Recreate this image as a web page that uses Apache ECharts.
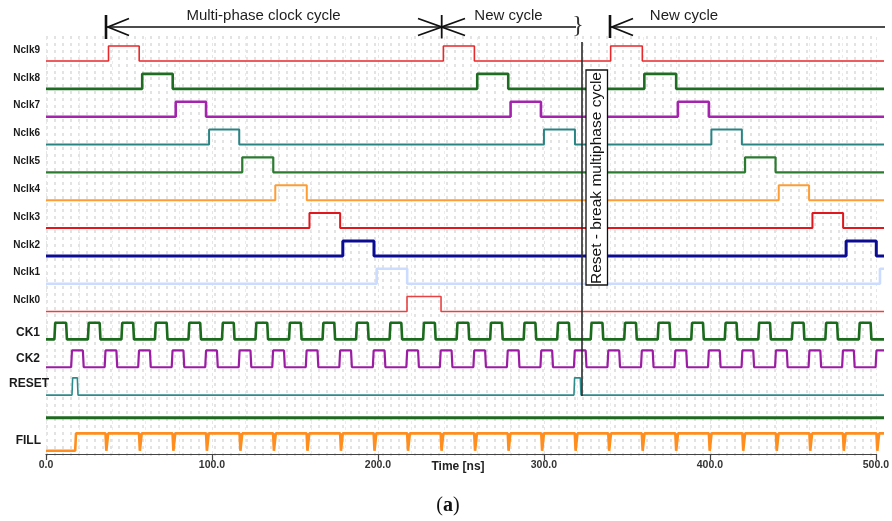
<!DOCTYPE html>
<html>
<head>
<meta charset="utf-8">
<script src="https://cdn.jsdelivr.net/npm/echarts@6/dist/echarts.min.js"></script>
<style>
  html, body { margin: 0; padding: 0; background: #fff; }
  #chart { width: 892px; height: 521px; }
</style>
</head>
<body>
<div id="chart"></div>
<script>
var T_END = 500;

// row names, top to bottom
var rowNames = ['Nclk9', 'Nclk8', 'Nclk7', 'Nclk6', 'Nclk5', 'Nclk4', 'Nclk3', 'Nclk2', 'Nclk1', 'Nclk0',
                'CK1', 'CK2', 'RESET', '', 'FILL'];

// phase pulses [rise, fall] in ns
var nclk9 = [[37.3, 55.6], [237.1, 255.6], [336.9, 355.8]];
var nclk8 = [[57.4, 75.6], [257.3, 275.8], [357.0, 376.0]];
var nclk7 = [[77.4, 95.5], [277.2, 295.3], [377.0, 395.5]];
var nclk6 = [[97.3, 115.3], [297.1, 315.6], [397.0, 415.2]];
var nclk5 = [[117.1, 135.6], [417.1, 435.3]];
var nclk4 = [[136.8, 155.6], [437.2, 455.3]];
var nclk3 = [[157.2, 175.5], [457.3, 475.6]];
var nclk2 = [[177.1, 195.7], [477.4, 495.4]];
var nclk1 = [[197.3, 215.5], [497.6, 500]];
var nclk0 = [[215.4, 235.7]];

// clocks
var ck1Rise = [5, 25, 45, 65, 85, 105, 125, 145, 165, 185, 205, 225, 245, 265, 285, 305, 325, 345, 365, 385, 405, 425, 445, 465, 485];
var ck1Fall = [12, 32, 52, 72, 92, 112, 132, 152, 172, 192, 212, 232, 252, 272, 292, 312, 332, 352, 372, 392, 412, 432, 452, 472, 492];
var ck2Rise = [15, 35, 55, 75, 95, 115, 135, 155, 175, 195, 215, 235, 255, 275, 295, 315, 335, 355, 375, 395, 415, 435, 455, 475, 495];
var ck2Fall = [22, 42, 62, 82, 102, 122, 142, 162, 182, 202, 222, 242, 262, 282, 302, 322, 342, 362, 382, 402, 422, 442, 462, 482, 502];

var resetPulses = [[15.5, 18.7], [315.0, 318.8]];
var busLevel = 0.3;
var fillRise = 17.4;
var fillDips = [36.3, 56.3, 76.3, 96.3, 116.3, 136.3, 156.3, 176.3, 196.3, 216.3, 236.3, 256.3,
                276.3, 296.3, 316.3, 336.3, 356.3, 376.3, 396.3, 416.3, 436.3, 456.3, 476.3, 496.3];

var xTicks = [0, 100, 200, 300, 400, 500];

// ---- layout ----
var LEFT = 46, RIGHT = 8;
var ROW0 = 61, PITCH = 27.84;
var amps =    [15, 15, 15, 15, 15, 15, 15, 15, 15, 15, 16.6, 16.8, 17.2, 17, 17.4];
var labOff =  [11, 11, 11, 11, 11, 11, 11, 11, 11, 11, 7, 9, 11.5, 0, 10];
var labRight =[40, 40, 40, 40, 40, 40, 40, 40, 40, 40, 40, 40, 49, 40, 41];
var styles = [
  {color: '#e8292b', width: 1.6},
  {color: '#1f6d22', width: 2.6},
  {color: '#a424ae', width: 2.6},
  {color: '#2a8484', width: 2},
  {color: '#2b7b30', width: 2.2},
  {color: '#ff9d35', width: 2},
  {color: '#e0181d', width: 2},
  {color: '#0c0c92', width: 3},
  {color: '#cbdcff', width: 2.6},
  {color: '#ea4242', width: 1.6},
  {color: '#1b6b1d', width: 2.6},
  {color: '#9c1ca4', width: 2.2},
  {color: '#2e8b8b', width: 1.6},
  {color: '#1d6a1f', width: 3},
  {color: '#ff8e1e', width: 2.6}
];

function pulseLine(pairs, edge) {
  edge = edge || 0;
  var pts = [[0, 0]];
  pairs.forEach(function (p) {
    pts.push([p[0], 0], [p[0] + edge, 1]);
    if (p[1] >= T_END) { pts.push([T_END, 1]); return; }
    pts.push([p[1], 1], [p[1] + edge, 0]);
  });
  if (pts[pts.length - 1][0] < T_END) pts.push([T_END, 0]);
  return pts;
}
function zip(a, b) { return a.map(function (v, i) { return [v, b[i]]; }); }

var fillLine = [[0, 0], [fillRise, 0], [fillRise + 0.5, 1]];
fillDips.forEach(function (d) {
  fillLine.push([d - 0.8, 1], [d - 0.3, 0], [d + 0.3, 0], [d + 0.8, 1]);
});
fillLine.push([T_END, 1]);

var rowData = [
  pulseLine(nclk9), pulseLine(nclk8), pulseLine(nclk7), pulseLine(nclk6), pulseLine(nclk5),
  pulseLine(nclk4), pulseLine(nclk3), pulseLine(nclk2), pulseLine(nclk1), pulseLine(nclk0),
  pulseLine(zip(ck1Rise, ck1Fall), 0.5),
  pulseLine(zip(ck2Rise, ck2Fall), 0.5),
  pulseLine(resetPulses, 0.4),
  [[0, busLevel], [T_END, busLevel]],
  fillLine
];

var grids = [{left: LEFT, right: RIGHT, top: 37, bottom: 67}];
var xAxes = [
  {
    gridIndex: 0, type: 'value', min: 0, max: T_END, interval: 100,
    axisLine: {show: true, lineStyle: {color: '#444', width: 1.2}},
    axisTick: {show: true, length: 6, lineStyle: {color: '#444', width: 1.2}},
    axisLabel: {color: '#333', fontSize: 10.5, fontWeight: 'bold', fontFamily: 'Liberation Sans', margin: 6,
                formatter: function (v) { return xTicks.indexOf(v) >= 0 ? v.toFixed(1) : ''; }},
    splitLine: {show: true, lineStyle: {color: '#e6e6e6', type: [3, 3], width: 1}},
    minorTick: {show: false, splitNumber: 5},
    minorSplitLine: {show: true, lineStyle: {color: '#ececec', type: [3, 3], width: 1}}
  }
];
var yAxes = [
  {
    gridIndex: 0, type: 'value', min: 0, max: 60, interval: 1,
    axisLine: {show: false}, axisTick: {show: false}, axisLabel: {show: false},
    splitLine: {show: true, lineStyle: {color: '#e3e3e3', type: [2, 6], width: 3}}
  }
];
var series = [];
var graphics = [];

rowNames.forEach(function (name, i) {
  var low = ROW0 + PITCH * i;
  grids.push({left: LEFT, right: RIGHT, top: low - amps[i], height: amps[i]});
  xAxes.push({gridIndex: i + 1, type: 'value', min: 0, max: T_END, show: false});
  yAxes.push({gridIndex: i + 1, type: 'value', min: 0, max: 1, show: false});
  series.push({
    name: name || 'bus',
    type: 'line',
    xAxisIndex: i + 1,
    yAxisIndex: i + 1,
    data: rowData[i],
    showSymbol: false,
    clip: false,
    silent: true,
    lineStyle: {color: styles[i].color, width: styles[i].width},
    z: 3
  });
  if (name) {
    var big = i >= 10;
    graphics.push({
      type: 'text', x: labRight[i], y: low - labOff[i], z: 50,
      style: {text: name, align: 'right', verticalAlign: 'middle', fill: '#1a1a1a',
              fontSize: big ? 12 : 10, fontWeight: 'bold', fontFamily: 'Liberation Sans'}
    });
  }
});

var ink = '#111';
function ln(x1, y1, x2, y2, w, c) {
  return {type: 'line', z: 100, shape: {x1: x1, y1: y1, x2: x2, y2: y2}, style: {stroke: c || ink, lineWidth: w}};
}
function pl(pts, w) {
  return {type: 'polyline', z: 100, shape: {points: pts}, style: {stroke: ink, lineWidth: w, fill: null}};
}
function txt(s, x, y, size) {
  return {type: 'text', x: x, y: y, z: 100,
          style: {text: s, align: 'center', verticalAlign: 'middle', fill: '#1e1e1e',
                  fontSize: size, fontFamily: 'Liberation Sans'}};
}

graphics = graphics.concat([
  // multi-phase clock cycle
  ln(106, 15, 106, 39, 2.6),
  ln(107, 27, 441.7, 27, 1.6),
  pl([[129, 18.5], [108, 27], [129, 35.5]], 1.8),
  txt('Multi-phase clock cycle', 263.5, 16, 15),
  // cross mark
  ln(441.7, 15, 441.7, 38.5, 1.8),
  pl([[418, 18.5], [441.7, 27], [418, 35.5]], 1.8),
  pl([[465, 18.5], [441.7, 27], [465, 35.5]], 1.8),
  ln(441.7, 27, 576, 27, 1.6),
  {type: 'text', x: 578, y: 26, z: 100,
   style: {text: '}', align: 'center', verticalAlign: 'middle', fill: '#333', fontSize: 24, fontFamily: 'Liberation Serif'}},
  txt('New cycle', 508.5, 16, 15),
  // new cycle after reset
  ln(610, 15, 610, 38, 2.6),
  ln(611, 27, 885, 27, 1.6),
  pl([[633, 18.5], [612, 27], [633, 35.5]], 1.8),
  txt('New cycle', 684, 16, 15),
  // reset break
  ln(582, 42, 582, 396, 1.6, '#2a2a2a'),
  {type: 'rect', z: 101, shape: {x: 586, y: 70, width: 21.5, height: 215},
   style: {fill: '#fff', stroke: ink, lineWidth: 1.3}},
  {type: 'text', x: 597, y: 178, z: 102, rotation: Math.PI / 2,
   style: {text: 'Reset - break multiphase cycle', align: 'center', verticalAlign: 'middle',
           fill: '#111', fontSize: 15.5, fontFamily: 'Liberation Sans'}},
  // axis title and caption
  {type: 'text', x: 458, y: 466.5, z: 100,
   style: {text: 'Time [ns]', align: 'center', verticalAlign: 'middle', fill: '#222',
           fontSize: 12, fontWeight: 'bold', fontFamily: 'Liberation Sans'}},
  {type: 'text', x: 448, y: 506, z: 100,
   style: {text: '{p|(}{b|a}{p|)}', align: 'center', verticalAlign: 'middle', fill: '#111',
           rich: {p: {fontSize: 20, fontFamily: 'Liberation Serif', fill: '#111'},
                  b: {fontSize: 20, fontWeight: 'bold', fontFamily: 'Liberation Serif', fill: '#111'}}}}
]);

var myChart = echarts.init(document.getElementById('chart'));
myChart.setOption({
  animation: false,
  backgroundColor: '#fff',
  grid: grids,
  xAxis: xAxes,
  yAxis: yAxes,
  series: series,
  graphic: graphics
});
</script>
</body>
</html>
